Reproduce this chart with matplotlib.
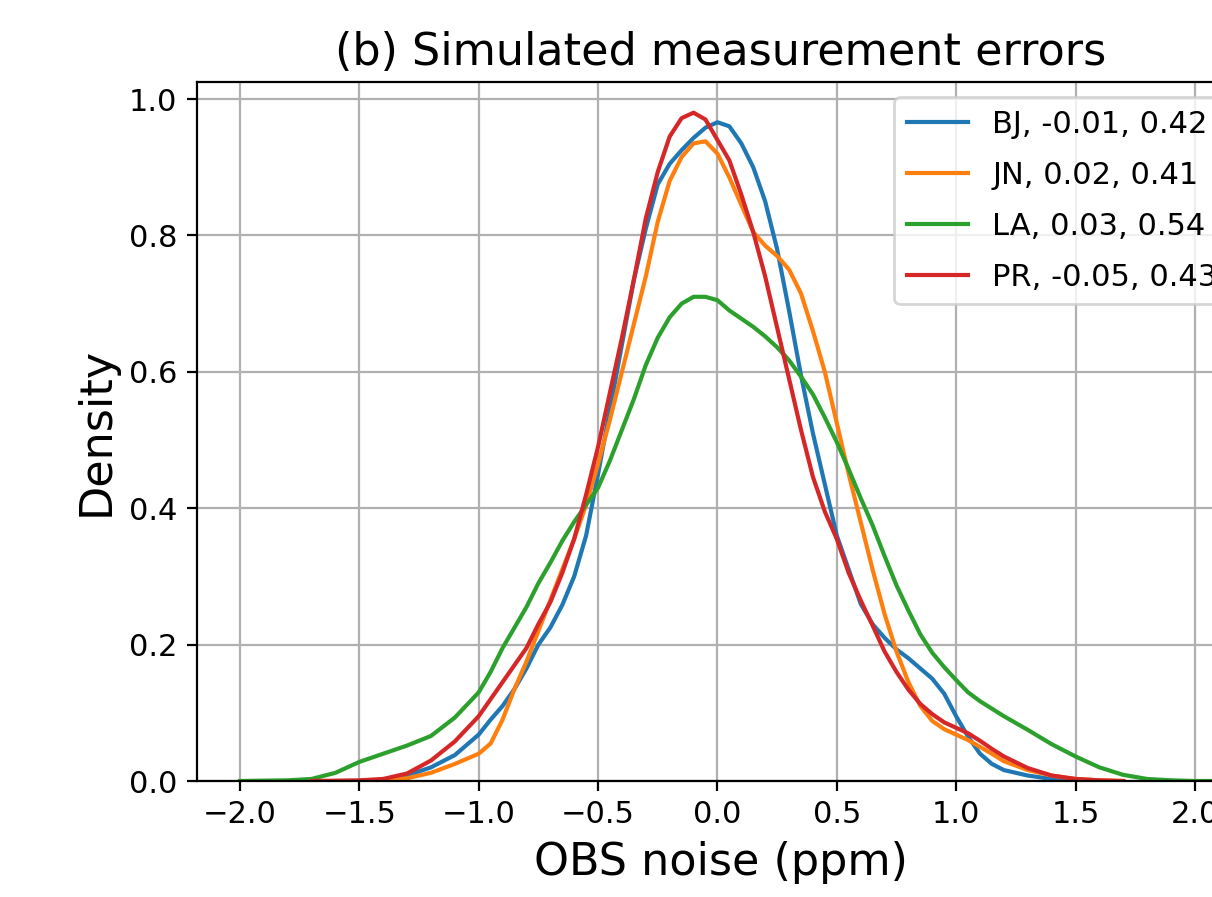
import numpy as np
import matplotlib
matplotlib.use("Agg")
from matplotlib import pyplot as plt

nan = np.nan

# OBS noise (ppm) grid shared by all sites
x = [-2.0, -1.9, -1.8, -1.7, -1.6, -1.5, -1.4, -1.3, -1.2, -1.1,
     -1.0, -0.95, -0.9, -0.85, -0.8, -0.75, -0.7, -0.65, -0.6, -0.55,
     -0.5, -0.45, -0.4, -0.35, -0.3, -0.25, -0.2, -0.15, -0.1, -0.05,
     0.0, 0.05, 0.1, 0.15, 0.2, 0.25, 0.3, 0.35, 0.4, 0.45,
     0.5, 0.55, 0.6, 0.65, 0.7, 0.75, 0.8, 0.85, 0.9, 0.95,
     1.0, 1.05, 1.1, 1.15, 1.2, 1.3, 1.4, 1.5, 1.6, 1.7,
     1.8, 1.9, 2.0, 2.1, 2.2]

bj = [nan, nan, nan, nan, nan, 0.0, 0.002, 0.008, 0.02, 0.038,
      0.068, 0.09, 0.11, 0.135, 0.165, 0.20, 0.225, 0.258, 0.30, 0.36,
      0.45, 0.545, 0.64, 0.735, 0.81, 0.875, 0.905, 0.925, 0.943, 0.958,
      0.966, 0.96, 0.935, 0.90, 0.85, 0.78, 0.69, 0.595, 0.51, 0.435,
      0.36, 0.31, 0.26, 0.23, 0.21, 0.193, 0.18, 0.165, 0.15, 0.128,
      0.095, 0.065, 0.04, 0.025, 0.016, 0.008, 0.003, 0.001, 0.0, nan,
      nan, nan, nan, nan, nan]

jn = [nan, nan, nan, nan, nan, 0.0, 0.001, 0.004, 0.012, 0.025,
      0.04, 0.055, 0.09, 0.135, 0.175, 0.22, 0.265, 0.31, 0.355, 0.405,
      0.465, 0.53, 0.60, 0.67, 0.74, 0.82, 0.88, 0.915, 0.935, 0.938,
      0.92, 0.885, 0.845, 0.805, 0.785, 0.77, 0.75, 0.715, 0.66, 0.60,
      0.525, 0.45, 0.38, 0.31, 0.245, 0.19, 0.145, 0.11, 0.088, 0.076,
      0.068, 0.06, 0.05, 0.04, 0.029, 0.016, 0.008, 0.003, 0.001, 0.0,
      nan, nan, nan, nan, nan]

la = [0.0, 0.0005, 0.001, 0.003, 0.012, 0.028, 0.04, 0.052, 0.066, 0.093,
      0.13, 0.16, 0.195, 0.225, 0.255, 0.29, 0.32, 0.352, 0.38, 0.405,
      0.43, 0.47, 0.515, 0.56, 0.61, 0.65, 0.68, 0.70, 0.71, 0.71,
      0.705, 0.69, 0.678, 0.666, 0.652, 0.636, 0.617, 0.593, 0.567, 0.533,
      0.497, 0.457, 0.415, 0.375, 0.33, 0.287, 0.25, 0.215, 0.188, 0.167,
      0.148, 0.13, 0.117, 0.106, 0.095, 0.075, 0.054, 0.036, 0.02, 0.009,
      0.003, 0.001, 0.0, 0.0, 0.0]

pr = [nan, nan, nan, 0.0, 0.0005, 0.001, 0.003, 0.011, 0.03, 0.058,
      0.095, 0.12, 0.145, 0.17, 0.195, 0.23, 0.262, 0.305, 0.355, 0.42,
      0.49, 0.57, 0.65, 0.735, 0.825, 0.893, 0.945, 0.972, 0.98, 0.97,
      0.94, 0.91, 0.86, 0.805, 0.74, 0.665, 0.59, 0.515, 0.446, 0.395,
      0.355, 0.305, 0.265, 0.228, 0.19, 0.16, 0.134, 0.113, 0.098, 0.086,
      0.078, 0.07, 0.059, 0.047, 0.036, 0.019, 0.008, 0.003, 0.001, 0.0,
      nan, nan, nan, nan, nan]

labels = ["BJ, -0.01, 0.42", "JN, 0.02, 0.41", "LA, 0.03, 0.54", "PR, -0.05, 0.43"]

if __name__ == "__main__":
    plt.rcParams["font.size"] = 11
    fig = plt.figure(figsize=(6.06, 4.485), dpi=200)
    # axes runs past the right edge, like the cropped original
    ax = fig.add_axes([197 / 1212, 1 - 781 / 897, (1245 - 197) / 1212, (781 - 82) / 897])

    for series, label in zip([bj, jn, la, pr], labels):
        ax.plot(x, series, label=label)

    ax.set_xlim(-2.18, 2.21)
    ax.set_ylim(0, 1.025)
    ax.set_xticks([-2.0, -1.5, -1.0, -0.5, 0.0, 0.5, 1.0, 1.5, 2.0])
    ax.grid(True)
    ax.set_axisbelow(True)
    ax.set_xlabel("OBS noise (ppm)", fontsize=16)
    ax.set_ylabel("Density", fontsize=16)
    ax.set_title("(b) Simulated measurement errors", fontsize=16)
    ax.legend(loc="upper right", fontsize=11, labelspacing=0.72)

    fig.savefig("out.png", dpi=200)
